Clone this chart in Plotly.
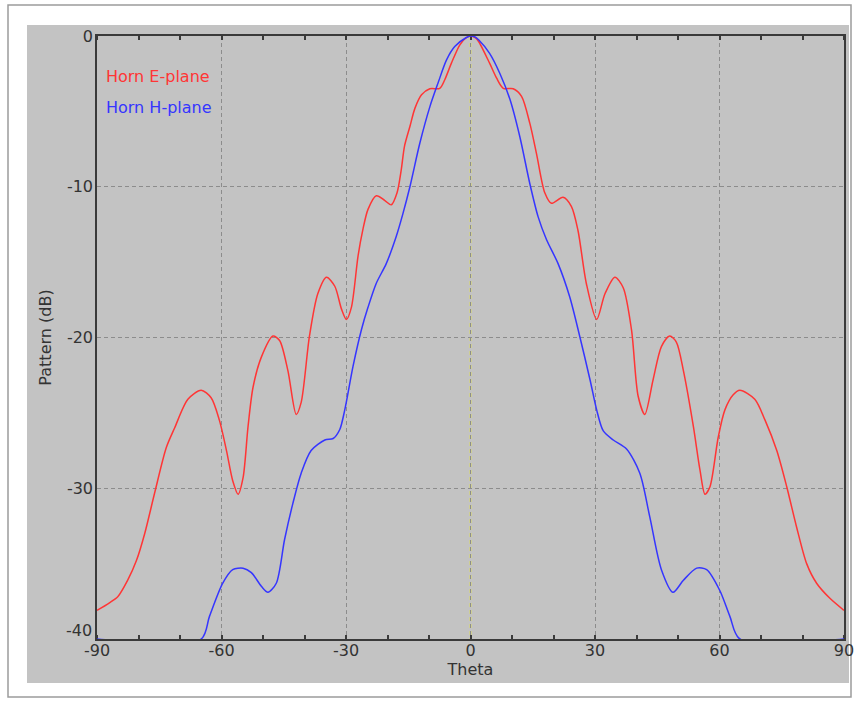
import plotly.graph_objects as go

# ---- data ----
theta_e = [-90, -87, -85, -82.6, -80.5, -78.5, -76.1, -73.3, -71.3, -68.1, -64.9, -62.5, -60.5,
           -58.8, -57.3, -56.0, -54.8, -53.6, -52.4, -50.4, -47.6, -46.0, -44.0, -42.0, -40.8,
           -38.8, -36.8, -34.7, -32.7, -31.1, -29.9, -28.7, -27.1, -25.9, -24.7, -22.7, -20.7,
           -19.1, -17.7, -16.7, -15.9, -14.6, -13.4, -11.8, -9.8, -7.4, -6.2, -4.6, -2.6, -1.2, 0,
           1.2, 2.0, 4.6, 6.3, 7.9, 10.3, 12.3, 14.3, 15.9, 17.9, 19.5, 22.3, 24.3, 25.9, 27.9,
           30.4, 32.4, 34.8, 36.8, 38.8, 40.4, 42.0, 44.0, 46.0, 48.0, 49.6, 51.3, 53.7, 55.3,
           56.5, 57.7, 59.7, 61.3, 63.3, 64.9, 68.5, 71.0, 73.8, 76.2, 78.6, 81.0, 83.4, 86.6, 90]
e_plane = [-38.1, -37.6, -37.2, -36.1, -34.8, -33.0, -30.3, -27.3, -26.0, -24.1, -23.5, -24.0, -25.5,
           -27.5, -29.5, -30.4, -29.3, -25.9, -23.3, -21.3, -19.9, -20.2, -22.2, -25.1, -24.3,
           -19.9, -17.1, -16.0, -16.6, -18.1, -18.8, -18.0, -14.6, -12.8, -11.5, -10.6, -10.9,
           -11.2, -10.4, -8.9, -7.3, -6.0, -4.8, -3.9, -3.5, -3.47, -2.9, -1.8, -0.6, -0.15, 0,
           -0.12, -0.38, -1.8, -2.8, -3.47, -3.5, -4.0, -5.8, -7.8, -10.4, -11.1, -10.7, -11.3, -12.9, -16.4,
           -18.8, -17.1, -16.0, -16.7, -19.5, -23.9, -25.1, -22.8, -20.6, -19.9, -20.3, -22.2, -25.9, -28.8,
           -30.4, -29.9, -26.6, -24.8, -23.8, -23.5, -24.1, -25.5, -27.5, -29.9, -32.6, -35.0, -36.3, -37.3, -38.1]

theta_h = [-90, -64.9, -62.9, -59.7, -57.3, -54.8, -52.8, -50.4, -48.8, -46.8, -44.8, -42.8, -40.8,
           -38.4, -35.1, -33.1, -31.5, -30.3, -28.3, -26.3, -24.7, -22.7, -20.3, -17.9, -16.3,
           -14.6, -12.2, -9.8, -7.8, -5.8, -3.8, -1.0, 0,
           1.0, 2.0, 4.6, 7.1, 9.5, 11.9, 14.3, 16.3, 18.3, 21.1, 23.9, 26.3, 28.8, 30.4, 32.0,
           34.4, 37.6, 40.8, 43.2, 46.0, 48.8, 51.3, 54.5, 56.9, 60.1, 62.5, 64.9, 90]
h_plane = [-40, -40, -38.5, -36.3, -35.4, -35.3, -35.6, -36.5, -36.9, -36.3, -33.4, -31.0, -29.0,
           -27.5, -26.8, -26.7, -26.1, -24.8, -21.9, -19.5, -18.0, -16.4, -15.1, -13.3, -11.8,
           -10.0, -7.1, -4.7, -3.1, -1.6, -0.7, -0.1, 0,
           -0.05, -0.27, -1.15, -2.5, -4.2, -6.7, -9.8, -12.0, -13.5, -15.1, -17.3, -19.9, -22.8, -24.8, -26.2,
           -26.8, -27.4, -29.0, -31.9, -35.4, -36.9, -36.1, -35.3, -35.4, -36.8, -38.5, -40, -40]

series_names = ["Horn E-plane", "Horn H-plane"]
x_ticks = [-90, -60, -30, 0, 30, 60, 90]
x_tick_labels = ["-90", "-60", "-30", "0", "30", "60", "90"]
y_ticks = [-40, -30, -20, -10, 0]
y_tick_labels = ["-40", "-30", "-20", "-10", "0"]

# ---- layout geometry ----
W, H = 857, 704
L, R, T, B = 97, 13, 36, 65
pw, ph = W - L - R, H - T - B


def px(x):
    return (x - L) / pw


def py(y):
    return (H - B - y) / ph


FONT = "DejaVu Sans"
RED = "#ff3535"
BLUE = "#3535ff"
GRAY_BG = "#c3c3c3"
TXT = "#333333"

fig = go.Figure()
fig.add_trace(go.Scatter(x=theta_e, y=e_plane, mode="lines", name=series_names[0],
                         line=dict(color=RED, width=1.5, shape="spline", smoothing=0.8)))
fig.add_trace(go.Scatter(x=theta_h, y=h_plane, mode="lines", name=series_names[1],
                         line=dict(color=BLUE, width=1.5, shape="spline", smoothing=0.8)))

# the bottom y label is drawn lifted above the corner (as in the reference), the others on the axis
y_text_axis = [t if v != y_ticks[0] else "" for v, t in zip(y_ticks, y_tick_labels)]

fig.update_layout(
    width=W, height=H, autosize=False,
    margin=dict(l=L, r=R, t=T, b=B, pad=0, autoexpand=False),
    paper_bgcolor="white",
    plot_bgcolor=GRAY_BG,
    showlegend=False,
    font=dict(family=FONT, size=16, color=TXT),
    xaxis=dict(
        range=[-90, 90], tickvals=x_ticks, ticktext=x_tick_labels, ticks="", showline=True,
        linecolor="#3a3a3a", linewidth=1.5, mirror="ticks", showgrid=True, gridcolor="#8c8c8c",
        gridwidth=1, griddash="4px,3px", zeroline=False, layer="below traces", automargin=False,
        tickfont=dict(family=FONT, size=16, color=TXT), ticklabelstandoff=-4,
        minor=dict(dtick=10, tick0=0, ticks="inside", ticklen=4, tickwidth=1.5,
                   tickcolor="#3a3a3a", showgrid=False),
        title=dict(text="Theta", standoff=3, font=dict(family=FONT, size=16, color=TXT)),
    ),
    yaxis=dict(
        range=[-40, 0], tickvals=y_ticks, ticktext=y_text_axis, ticks="", showline=True,
        linecolor="#3a3a3a", linewidth=1.5, mirror=True, showgrid=True, gridcolor="#8c8c8c",
        gridwidth=1, griddash="4px,3px", zeroline=False, layer="below traces", automargin=False,
        tickfont=dict(family=FONT, size=16, color=TXT), ticklabelstandoff=-1,
        title=dict(text="Pattern (dB)", standoff=11, font=dict(family=FONT, size=16, color=TXT)),
    ),
)

# lifted bottom y tick label
fig.add_annotation(x=px(94), y=py(630), xref="paper", yref="paper", text=y_tick_labels[0],
                   showarrow=False, xanchor="right", yanchor="middle",
                   font=dict(family=FONT, size=16, color=TXT))

# outer white frame and grey panel
fig.add_shape(type="rect", xref="paper", yref="paper", layer="below",
              x0=px(8), x1=px(851), y0=py(697), y1=py(5),
              fillcolor="white", line=dict(color="#9c9c9c", width=1.5))
fig.add_shape(type="rect", xref="paper", yref="paper", layer="below",
              x0=px(27), x1=px(849), y0=py(683), y1=py(25),
              fillcolor=GRAY_BG, line=dict(width=0))
# yellow dashed line at theta = 0
fig.add_shape(type="line", xref="x", yref="paper", layer="between",
              x0=0, x1=0, y0=1, y1=0, line=dict(color="#f2f20a", width=1.5, dash="4px,3px"))

# legend-like labels
for name, col, ypix in [(series_names[0], RED, 76.5), (series_names[1], BLUE, 107)]:
    fig.add_annotation(x=px(104), y=py(ypix), xref="paper", yref="paper", text=name,
                       showarrow=False, xanchor="left", yanchor="middle",
                       font=dict(family=FONT, size=16, color=col))

fig.write_html("out.html",
               config={"responsive": False, "displayModeBar": False},
               post_script="document.body.style.margin='0px';document.body.style.overflow='hidden';")
